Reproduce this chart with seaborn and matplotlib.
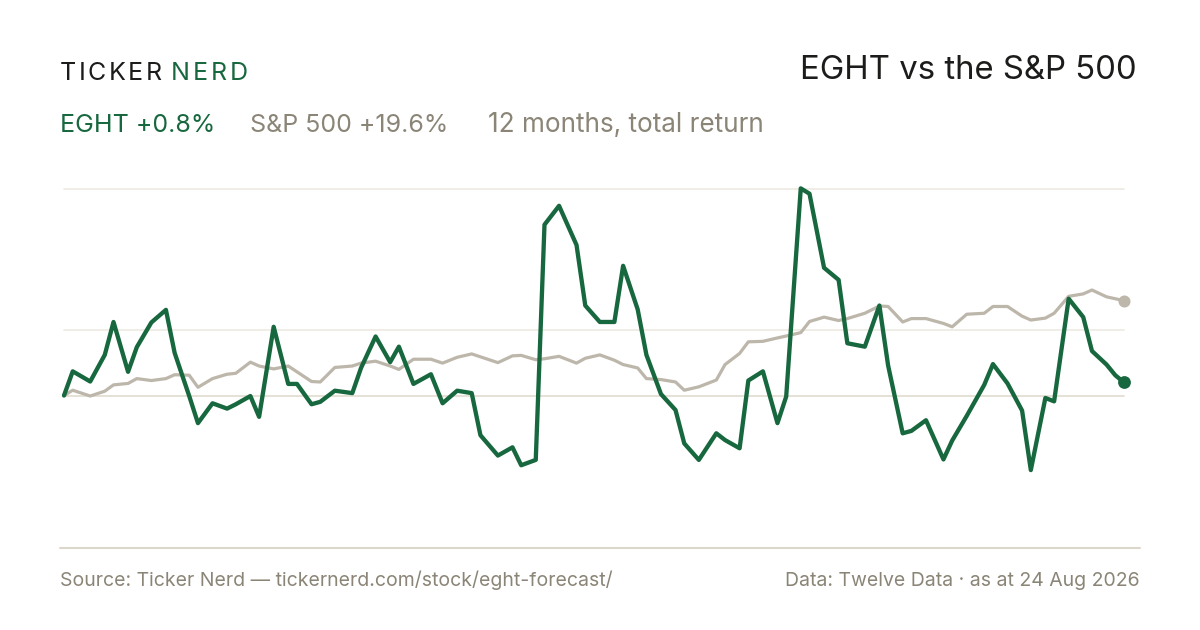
# EGHT vs S&P 500, 12 month total return (Ticker Nerd style card)

import numpy as np
import pandas as pd
import matplotlib
matplotlib.use("Agg")
import matplotlib.pyplot as plt
import seaborn as sns
from matplotlib.lines import Line2D

sns.set_style("white")
plt.rcParams["font.family"] = ["Inter", "DejaVu Sans"]

GREEN = "#18683f"
SPX_GREY = "#bdb6aa"
TEXT_GREY = "#8b8577"
INK = "#1c1c1a"

# --- Data ---
# NYSE closures inside the window; one point every 3rd session plus the last one
holidays = ["2025-09-01", "2025-11-27", "2025-12-25", "2026-01-01", "2026-01-19",
            "2026-02-16", "2026-04-03", "2026-05-25", "2026-06-19", "2026-07-03"]
sessions = pd.date_range("2025-08-25", "2026-08-24",
                         freq=pd.offsets.CustomBusinessDay(holidays=holidays))
dates = sessions[::3].append(sessions[-1:])

# cumulative return (%)
eght = [0.0, 5.0, 2.9, 8.4, 15.2, 4.9, 10.0, 15.1, 17.7, 8.8,
        -0.1, -5.7, -1.6, -2.7, -1.8, -0.1, -4.4, 14.2, 2.4, 2.4,
        -1.8, -1.3, 1.0, 0.5, 5.7, 12.2, 6.9, 10.1, 2.4, 4.4,
        -1.6, 1.0, 0.5, -8.2, -12.4, -10.7, -14.4, -13.3, 35.3, 39.2,
        31.1, 18.6, 15.2, 15.2, 26.8, 17.8, 8.4, 0.3, -3.0, -9.9,
        -13.3, -7.8, -9.2, -10.9, 3.1, 5.0, -5.7, -0.2, 42.8, 41.7,
        26.4, 23.9, 10.8, 10.1, 18.6, 6.2, -7.8, -7.3, -5.1, -13.2,
        -9.3, -4.2, 2.2, 6.5, 2.5, -3.1, -15.4, -0.5, -1.2, 20.0,
        16.2, 9.2, 6.4, 4.2, 2.7]
spx = [0.0, 1.1, -0.1, 0.9, 2.2, 2.5, 3.5, 3.1, 3.5, 4.3,
       4.2, 1.7, 3.5, 4.4, 4.6, 6.9, 6.1, 5.5, 6.1, 4.9,
       2.9, 2.8, 5.8, 6.1, 6.7, 7.1, 6.1, 5.4, 7.5, 7.5,
       6.7, 7.9, 8.6, 8.0, 6.8, 8.2, 8.3, 7.4, 7.6, 8.1,
       6.7, 7.7, 8.4, 7.3, 6.4, 5.7, 3.5, 3.3, 2.8, 1.1,
       1.8, 3.2, 6.4, 8.7, 11.1, 11.2, 11.9, 12.3, 13.0, 15.3,
       16.2, 15.5, 15.9, 17.0, 18.5, 18.4, 15.2, 15.9, 15.9, 14.9,
       14.2, 16.8, 17.0, 18.4, 18.4, 16.4, 15.6, 16.0, 17.0, 20.5,
       21.0, 21.8, 20.4, 20.0, 19.6]

grid_levels = [13.5, 42.7]

df = pd.DataFrame({"date": dates, "EGHT": eght, "S&P 500": spx})

W, H = 1200, 630
fig = plt.figure(figsize=(W / 100, H / 100), dpi=100)
fig.patch.set_facecolor("white")


def fx(px):
    return px / W


def fy(py):
    return 1 - py / H


ax = fig.add_axes([fx(64), fy(548), fx(1124) - fx(64), fy(170) - fy(548)])

for lvl in grid_levels:
    ax.axhline(lvl, color="#eeeae3", lw=1.2, zorder=0)
ax.axhline(0, color="#e0dbd0", lw=1.2, zorder=0)

sns.lineplot(data=df, x="date", y="S&P 500", color=SPX_GREY, lw=2.3, ax=ax,
             solid_joinstyle="round", solid_capstyle="round", zorder=2)
sns.lineplot(data=df, x="date", y="EGHT", color=GREEN, lw=3.1, ax=ax,
             solid_joinstyle="round", solid_capstyle="round", zorder=3)

ax.scatter(df["date"].iloc[-1], df["S&P 500"].iloc[-1], s=75, color=SPX_GREY,
           zorder=4, linewidths=0, clip_on=False)
ax.scatter(df["date"].iloc[-1], df["EGHT"].iloc[-1], s=85, color=GREEN,
           zorder=5, linewidths=0, clip_on=False)

ax.set_xlim(df["date"].iloc[0], df["date"].iloc[-1])
ax.set_ylim(-31.5, 46.6)
ax.set_xticks([])
ax.set_yticks([])
ax.set_xlabel("")
ax.set_ylabel("")
for sp in ax.spines.values():
    sp.set_visible(False)
ax.patch.set_alpha(0)
for line in ax.lines:
    line.set_clip_on(False)

# bottom rule
fig.add_artist(Line2D([fx(60), fx(1140)], [fy(548), fy(548)],
                      color="#dcd7cc", lw=1.5))

# --- Header ---
renderer = fig.canvas.get_renderer()


def tracked(x, y, s, color, size, track):
    for ch in s:
        t = fig.text(fx(x), fy(y), ch, color=color, fontsize=size, va="baseline")
        x += t.get_window_extent(renderer).width + track
    return x


tracked(60, 79.5, "TICKER", INK, 18, 2.4)
tracked(171, 79.5, "NERD", GREEN, 18, 3.0)

fig.text(fx(1137), fy(79), "EGHT vs the S&P 500", ha="right", va="baseline",
         fontsize=23.7, color=INK)

fig.text(fx(60), fy(132), "EGHT +0.8%", color=GREEN, fontsize=18, va="baseline")
fig.text(fx(250), fy(132), "S&P 500 +19.6%", color=TEXT_GREY, fontsize=18,
         va="baseline")
fig.text(fx(488), fy(132), "12 months, total return", color=TEXT_GREY,
         fontsize=18.8, va="baseline")

# --- Footer ---
fig.text(fx(60), fy(586), "Source: Ticker Nerd — tickernerd.com/stock/eght-forecast/",
         color=TEXT_GREY, fontsize=14, va="baseline")
fig.text(fx(1140), fy(586), "Data: Twelve Data · as at 24 Aug 2026", ha="right",
         color=TEXT_GREY, fontsize=14, va="baseline")

fig.savefig("out.png", dpi=100, facecolor="white")
